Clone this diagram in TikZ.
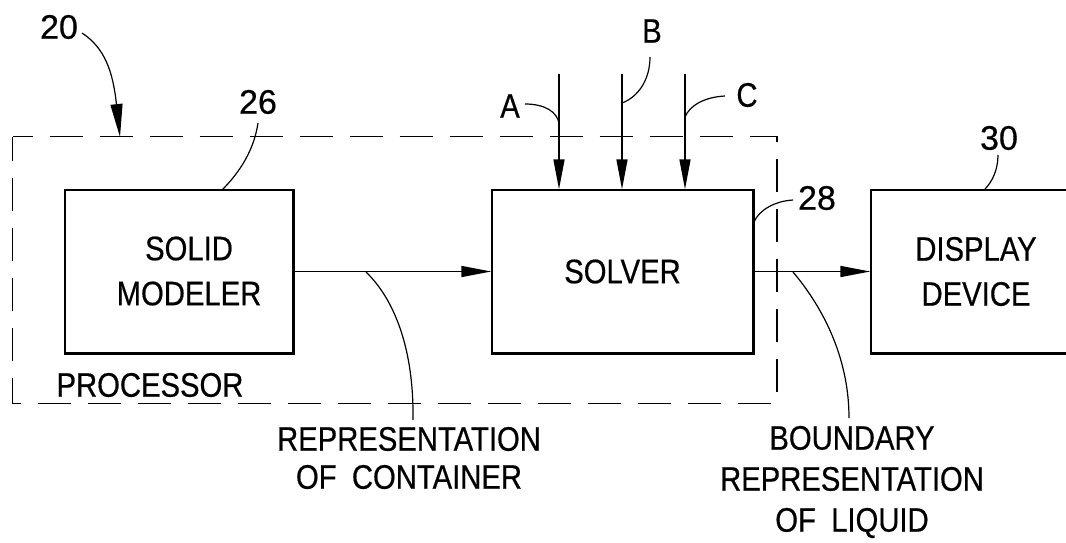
\documentclass[tikz,border=0pt]{standalone}
\usepackage{fontspec}
\setmainfont{Liberation Sans}[FakeStretch=0.86,FakeBold=0.5]
\newfontfamily\numfont{Liberation Sans}[FakeBold=0.5]
\usetikzlibrary{arrows.meta}
\begin{document}
\begin{tikzpicture}[x=1pt,y=-1pt,
  blk/.style={draw,line width=1.4pt,inner sep=0pt},
  boxfont/.style={font=\fontsize{34}{45}\selectfont},
  lbl/.style={font=\fontsize{34}{38}\selectfont,inner sep=0pt,align=center},
  numlbl/.style={font=\numfont\fontsize{34}{38}\selectfont,inner sep=0pt},
  lead/.style={line width=1.2pt},
  arr/.style={line width=1.5pt,-{Triangle[length=30pt,width=11pt]}},
  heavy/.style={line width=3pt},
  dashbox/.style={line width=1.2pt,dash pattern=on 33pt off 17pt,dash phase=13pt}]
\clip (0,0) rectangle (1066,542);
\fill[white] (0,0) rectangle (1066,542);

% processor (dashed) box
\node[minimum width=764pt,minimum height=266pt,inner sep=0pt] (proc) at (394.85,270) {};
\draw[dashbox] (proc.north west) -- (proc.north east) -- (proc.south east) -- (proc.south west) -- cycle;
\node[lbl] (proclabel) at (150,385) {PROCESSOR};

% blocks
\node[blk,minimum width=228pt,minimum height=163pt] (modeler) at (179,271.5) {};
\node[boxfont,align=center,inner sep=0pt] (modelertext) at (189,271) {SOLID\\MODELER};
\node[blk,boxfont,minimum width=261pt,minimum height=163pt] (solver) at (622.5,271.5) {SOLVER};
\node[blk,boxfont,align=center,minimum width=210pt,minimum height=163pt] (display) at (976,271.5) {DISPLAY\\DEVICE};
\draw[heavy] (modeler.north east) -- (modeler.south east) -- (modeler.south west);
\draw[heavy] (solver.north east) -- (solver.south east) -- (solver.south west);
\draw[heavy] (display.south west) -- (display.south east);

% main arrows
\draw[arr] (modeler.east) -- (solver.west);
\draw[arr] (solver.east) -- (display.west);

% inputs A B C
\coordinate (ina) at (559,74);
\coordinate (inb) at (622,74);
\coordinate (inc) at (685,74);
\draw[arr] (ina) -- (ina |- solver.north);
\draw[arr] (inb) -- (inb |- solver.north);
\draw[arr] (inc) -- (inc |- solver.north);

% labels
\node[numlbl] (l20) at (59,27) {20};
\node[numlbl] (l26) at (258,102) {26};
\node[lbl] (lA) at (510,106) {A};
\node[lbl] (lB) at (652,31) {B};
\node[lbl] (lC) at (747,95) {C};
\node[numlbl] (l28) at (817,198) {28};
\node[numlbl] (l30) at (999,138) {30};
\node[lbl] (cont) at (409,458) {REPRESENTATION\\OF\hspace{0.45em}CONTAINER};
\node[lbl,font=\fontsize{34}{41}\selectfont] (bound) at (852,482) {BOUNDARY\\REPRESENTATION\\OF\hspace{0.45em}LIQUID};

% leader coordinates
\coordinate (s20) at (82,33);   \coordinate (e20) at (120,137);
\coordinate (s26) at (258,123); \coordinate (e26) at (222,190);
\coordinate (sA) at (525,104);  \coordinate (eA) at (559,123);
\coordinate (sB) at (650,57);   \coordinate (eB) at (622,103);
\coordinate (sC) at (725,96);   \coordinate (eC) at (685,117);
\coordinate (s28) at (793,200); \coordinate (e28) at (754,222);
\coordinate (s30) at (998,155); \coordinate (e30) at (985,189);
\coordinate (sRC) at (366,272); \coordinate (eRC) at (413,420);
\coordinate (sBL) at (793,272); \coordinate (eBL) at (849,418);

% leaders
\draw[lead,-{Triangle[length=33pt,width=12pt]}] (s20) .. controls (105,48) and (113,72) .. (e20);
\draw[lead] (s26) .. controls (254,150) and (240,172) .. (e26);
\draw[lead] (sA) .. controls (545,104) and (557,112) .. (eA);
\draw[lead] (sB) .. controls (650,80) and (638,97) .. (eB);
\draw[lead] (sC) .. controls (705,97) and (690,105) .. (eC);
\draw[lead] (s28) .. controls (775,201) and (759,210) .. (e28);
\draw[lead] (s30) .. controls (998,170) and (992,182) .. (e30);
\draw[lead] (sRC) .. controls (395,300) and (414,350) .. (eRC);
\draw[lead] (sBL) .. controls (825,310) and (849,360) .. (eBL);
\end{tikzpicture}
\end{document}
